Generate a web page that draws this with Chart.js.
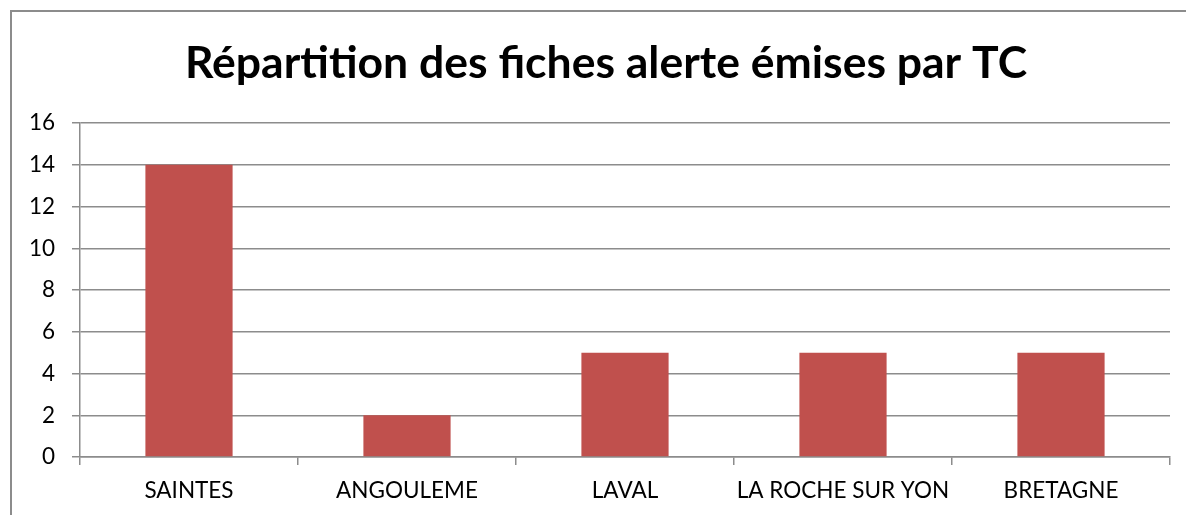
<!DOCTYPE html>
<html>
<head>
<meta charset="utf-8">
<script src="https://cdn.jsdelivr.net/npm/chart.js@4/dist/chart.umd.min.js"></script>
<style>
  html, body { margin: 0; padding: 0; background: #fff; overflow: hidden; }
</style>
</head>
<body>
<canvas id="chart" width="1186" height="515"></canvas>
<script>
const categories = ["SAINTES", "ANGOULEME", "LAVAL", "LA ROCHE SUR YON", "BRETAGNE"]
const fiches = [14, 2, 5, 5, 5]
const yTicks = [0, 2, 4, 6, 8, 10, 12, 14, 16]
const chartTitle = "Répartition des fiches alerte émises par TC"

const fontFamily = "Lato, 'Open Sans', sans-serif"
const gridColor = "#8c8c8c"

// outer frame + title drawn by hand so the title can sit off-centre like the original
const framePlugin = {
  id: "frame",
  afterDraw(chart) {
    const c = chart.ctx
    c.save()
    c.strokeStyle = gridColor
    c.lineWidth = 2
    c.beginPath()
    c.moveTo(11, chart.height + 5)
    c.lineTo(11, 11)
    c.lineTo(chart.width + 5, 11)
    c.stroke()
    c.fillStyle = "#000"
    c.font = `bold 44.5px ${fontFamily}`
    c.textAlign = "center"
    c.textBaseline = "middle"
    c.fillText(chartTitle, 606, 64)
    c.restore()
  }
}

const ctx = document.getElementById("chart").getContext("2d")
new Chart(ctx, {
  type: "bar",
  data: {
    labels: categories,
    datasets: [{
      label: "Fiches alerte",
      data: fiches,
      backgroundColor: "#c0504d",
      categoryPercentage: 1,
      barPercentage: 0.4
    }]
  },
  options: {
    responsive: false,
    animation: false,
    layout: { padding: { left: 0, right: 16, top: 123, bottom: 0 } },
    plugins: {
      legend: { display: false },
      tooltip: { enabled: false },
      title: { display: false }
    },
    scales: {
      x: {
        offset: true,
        grid: { display: true, drawOnChartArea: false, drawTicks: true, tickLength: 8, color: gridColor, lineWidth: 1.5, offset: true },
        border: { display: true, color: gridColor, width: 1.5 },
        ticks: { color: "#000", padding: 12, font: { family: fontFamily, size: 22.5 }, maxRotation: 0, autoSkip: false },
        afterFit: (scale) => { scale.height = 58 }
      },
      y: {
        min: 0,
        max: 16,
        afterBuildTicks: (scale) => { scale.ticks = yTicks.map((v) => ({ value: v })) },
        grid: { color: gridColor, lineWidth: 1.5, tickLength: 8 },
        border: { display: true, color: gridColor, width: 1.5 },
        ticks: { color: "#000", padding: 17, font: { family: fontFamily, size: 22.5 } },
        afterFit: (scale) => { scale.width = 80 }
      }
    }
  },
  plugins: [framePlugin]
})
</script>
</body>
</html>
